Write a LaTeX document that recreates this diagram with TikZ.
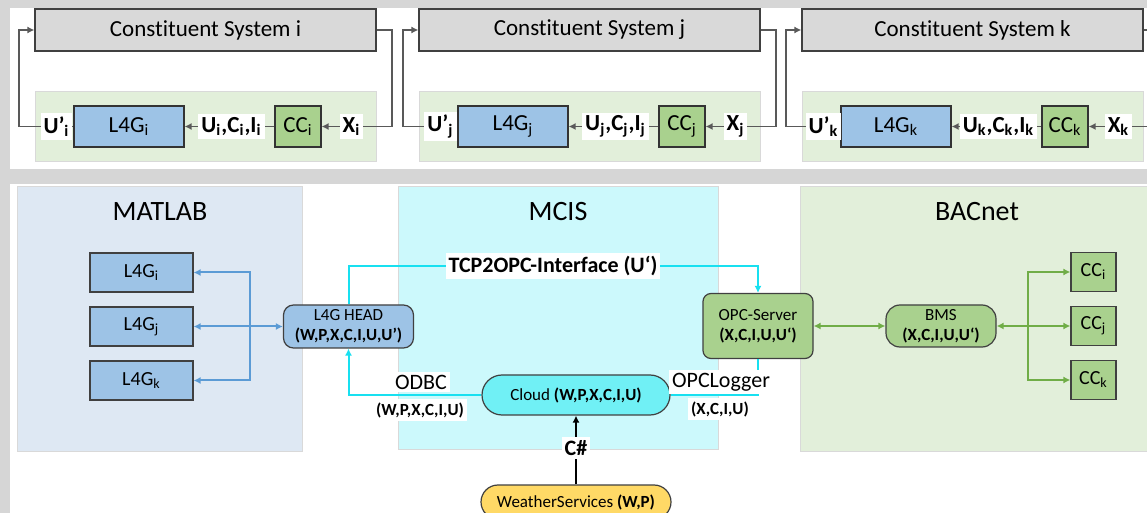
\documentclass[tikz,border=0pt]{standalone}
\usepackage{fontspec}
\setmainfont{Carlito}[Ligatures={TeX,NoCommon}]
\usetikzlibrary{arrows.meta}

\definecolor{bggray}{HTML}{D6D6D6}
\definecolor{csgray}{HTML}{D9D9D9}
\definecolor{cspanel}{HTML}{E2EFDA}
\definecolor{lfgblue}{HTML}{9DC3E6}
\definecolor{ccgreen}{HTML}{A9D18E}
\definecolor{matlabbg}{HTML}{DEE8F3}
\definecolor{mcisbg}{HTML}{CCF9FC}
\definecolor{bacnetbg}{HTML}{E2EFDA}
\definecolor{cloudcyan}{HTML}{70F0F5}
\definecolor{weatheryel}{HTML}{FFD966}
\definecolor{blueline}{HTML}{5B9BD5}
\definecolor{greenline}{HTML}{70AD47}
\definecolor{cyanline}{HTML}{18E0F0}

\tikzset{
  csbox/.style={draw=black!75, fill=csgray, line width=0.6pt, inner sep=0pt,
    minimum width=170.5pt, minimum height=21pt, font=\fontsize{11.5}{13}\selectfont},
  lfgbox/.style={draw=black!80, fill=lfgblue, line width=0.6pt, inner sep=0pt,
    minimum width=55pt, minimum height=20.5pt, font=\fontsize{11.5}{13}\selectfont},
  ccbox/.style={lfgbox, fill=ccgreen, minimum width=23pt},
  siglabel/.style={fill=white, inner sep=1.5pt, font=\fontsize{11.5}{13}\selectfont\bfseries},
  wire/.style={draw=black!65, line width=0.7pt},
  panel/.style={draw=black!15, line width=0.5pt},
  titletext/.style={font=\fontsize{14}{16}\selectfont},
  lfgsmall/.style={draw=black!75, fill=lfgblue, line width=0.6pt, inner sep=0pt,
    minimum width=51.5pt, minimum height=19.5pt, font=\fontsize{10}{12}\selectfont},
  ccsmall/.style={lfgsmall, fill=ccgreen, minimum width=22.5pt},
  roundbox/.style={draw=black!75, line width=0.6pt, inner sep=0pt, align=center,
    font=\fontsize{8.5}{10}\selectfont},
  datalabel/.style={fill=white, inner sep=1.5pt, font=\fontsize{8.5}{10}\selectfont\bfseries},
  namelabel/.style={fill=white, inner sep=1.5pt, font=\fontsize{11}{13}\selectfont},
}

\begin{document}
\begin{tikzpicture}[x=0.5pt, y=-0.5pt, >={Latex[length=3.5pt,width=3.5pt]}]
    \useasboundingbox (0,0) rectangle (1147,513);

    % Fondo
    \fill[bggray] (0,0) rectangle (1147,513);
    \fill[white] (10,8) rectangle (1147,169);
    \fill[white] (10,184) rectangle (1147,513);

    % Sistema i
    \node[csbox] (csi) at (205.5,30) {Constituent System i};
    \draw[panel, fill=cspanel] (35,92) rectangle (376,162);
    \node[lfgbox] (lfgi) at (129,126.5) {L4G\textsubscript{i}};
    \node[ccbox] (cci) at (298,126.5) {CC\textsubscript{i}};
    \coordinate (ri) at (392,126.5);
    \coordinate (li) at (19,30);
    \draw[wire,->] (csi.east) -| (ri) -- (cci.east);
    \draw[wire,->] (cci.west) -- (lfgi.east);
    \draw[wire,->] (lfgi.west) -| (li) -- (csi.west);
    \node[siglabel] (xi) at (351.5,126.5) {X\textsubscript{i}};
    \node[siglabel] (ucii) at (231.5,126.5) {U\textsubscript{i},C\textsubscript{i},I\textsubscript{i}};
    \node[siglabel] (upi) at (56.5,126.5) {U’\textsubscript{i}};

    % Sistema j
    \node[csbox] (csj) at (589.5,30) {Constituent System j};
    \draw[panel, fill=cspanel] (419,92) rectangle (760,162);
    \node[lfgbox] (lfgj) at (513,126.5) {L4G\textsubscript{j}};
    \node[ccbox] (ccj) at (682,126.5) {CC\textsubscript{j}};
    \coordinate (rj) at (776,126.5);
    \coordinate (lj) at (403,30);
    \draw[wire,->] (csj.east) -| (rj) -- (ccj.east);
    \draw[wire,->] (ccj.west) -- (lfgj.east);
    \draw[wire,->] (lfgj.west) -| (lj) -- (csj.west);
    \node[siglabel] (xj) at (735.5,126.5) {X\textsubscript{j}};
    \node[siglabel] (ucij) at (615.5,126.5) {U\textsubscript{j},C\textsubscript{j},I\textsubscript{j}};
    \node[siglabel] (upj) at (440.5,126.5) {U’\textsubscript{j}};

    % Sistema k
    \node[csbox] (csk) at (972.5,30) {Constituent System k};
    \draw[panel, fill=cspanel] (802,92) rectangle (1143,162);
    \node[lfgbox] (lfgk) at (896,126.5) {L4G\textsubscript{k}};
    \node[ccbox] (cck) at (1065,126.5) {CC\textsubscript{k}};
    \coordinate (rk) at (1159,126.5);
    \coordinate (lk) at (786,30);
    \draw[wire,->] (csk.east) -| (rk) -- (cck.east);
    \draw[wire,->] (cck.west) -- (lfgk.east);
    \draw[wire,->] (lfgk.west) -| (lk) -- (csk.west);
    \node[siglabel] (xk) at (1118.5,126.5) {X\textsubscript{k}};
    \node[siglabel] (ucik) at (998.5,126.5) {U\textsubscript{k},C\textsubscript{k},I\textsubscript{k}};
    \node[siglabel] (upk) at (823.5,126.5) {U’\textsubscript{k}};

    % Paneles de abajo
    \draw[panel, fill=matlabbg] (17,187) rectangle (302,452);
    \draw[panel, fill=mcisbg] (398,187) rectangle (718,450);
    \draw[panel, fill=bacnetbg] (800,187) rectangle (1150,452);
    \node[titletext] (matlab) at (160,212) {MATLAB};
    \node[titletext] (mcis) at (558,212) {MCIS};
    \node[titletext] (bacnet) at (977,212) {BACnet};

    % MATLAB
    \node[lfgsmall] (mli) at (141.5,272.5) {L4G\textsubscript{i}};
    \node[lfgsmall] (mlj) at (141.5,326.5) {L4G\textsubscript{j}};
    \node[lfgsmall] (mlk) at (141.5,380.5) {L4G\textsubscript{k}};
    \node[roundbox, fill=lfgblue, rounded corners=5pt, minimum width=65pt, minimum height=21.5pt]
        (head) at (348.5,326.5) {L4G HEAD\\\textbf{(W,P,X,C,I,U,U’)}};
    \coordinate (bj) at (250,326.5);
    \draw[blueline, line width=1pt, <->] (mlj.east) -- (head.west);
    \draw[blueline, line width=1pt, ->] (bj) |- (mli.east);
    \draw[blueline, line width=1pt, ->] (bj) |- (mlk.east);

    % MCIS
    \node[roundbox, fill=cloudcyan, rounded corners=10pt, minimum width=94pt, minimum height=20pt]
        (cloud) at (576,395) {Cloud \textbf{(W,P,X,C,I,U)}};
    \node[roundbox, fill=ccgreen, rounded corners=4pt, minimum width=55pt, minimum height=32.5pt]
        (opc) at (758,326) {OPC-Server\\\textbf{(X,C,I,U,U‘)}};
    \node[roundbox, fill=weatheryel, rounded corners=8.5pt, minimum width=95pt, minimum height=17pt]
        (weather) at (576,502) {WeatherServices \textbf{(W,P)}};
    \coordinate (tcpc) at (553,266);
    \draw[cyanline, line width=1pt, ->] (head.north) |- (tcpc) -| (opc.north);
    \draw[cyanline, line width=1pt, ->] (cloud.west) -| (head.south);
    \draw[cyanline, line width=1pt] (opc.south) |- (cloud.east);
    \draw[black, line width=1pt, ->] (weather.north) -- (cloud.south);
    \node[siglabel, font=\fontsize{11}{13}\selectfont\bfseries] (tcp) at (tcpc) {TCP2OPC-Interface (U‘)};
    \node[namelabel] (odbc) at (421,382) {ODBC};
    \node[datalabel] (odbcdata) at (420,410) {(W,P,X,C,I,U)};
    \node[namelabel] (logger) at (721,382) {OPCLogger};
    \node[datalabel] (loggerdata) at (720,409) {(X,C,I,U)};
    \node[siglabel, font=\fontsize{11}{13}\selectfont\bfseries] (csharp) at (576,448) {C\#};

    % BACnet
    \node[roundbox, fill=ccgreen, rounded corners=7pt, minimum width=55pt, minimum height=21pt]
        (bms) at (941,326) {BMS\\\textbf{(X,C,I,U,U‘)}};
    \node[ccsmall] (bci) at (1093.5,272) {CC\textsubscript{i}};
    \node[ccsmall] (bcj) at (1093.5,326) {CC\textsubscript{j}};
    \node[ccsmall] (bck) at (1093.5,380) {CC\textsubscript{k}};
    \coordinate (gj) at (1028,326);
    \draw[greenline, line width=1pt, <->] (opc.east) -- (bms.west);
    \draw[greenline, line width=1pt, <->] (bms.east) -- (bcj.west);
    \draw[greenline, line width=1pt, ->] (gj) |- (bci.west);
    \draw[greenline, line width=1pt, ->] (gj) |- (bck.west);
\end{tikzpicture}
\end{document}
